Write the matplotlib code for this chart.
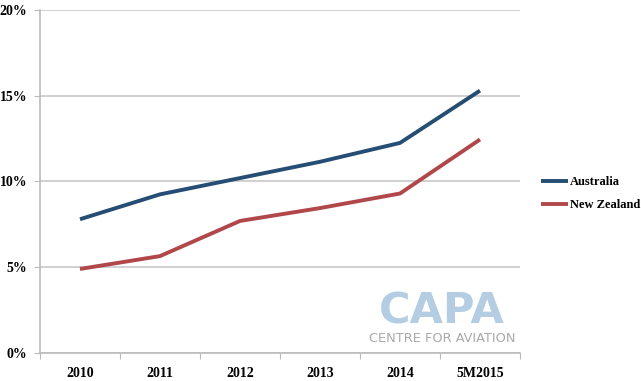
import numpy as np
import matplotlib.pyplot as plt
from matplotlib.ticker import FuncFormatter

# data
categories = ["2010", "2011", "2012", "2013", "2014", "5M2015"]
australia = [7.8, 9.25, 10.2, 11.15, 12.25, 15.3]
new_zealand = [4.9, 5.65, 7.7, 8.45, 9.3, 12.45]

W, H = 641, 381
fig = plt.figure(figsize=(W / 100, H / 100), dpi=100)
ax = fig.add_axes([40 / W, 28 / H, 480 / W, 343 / H])

x = np.arange(len(categories))
ax.plot(x, australia, color="#264d73", lw=2.8, label="Australia", solid_capstyle="butt")
ax.plot(x, new_zealand, color="#b0484a", lw=2.8, label="New Zealand", solid_capstyle="butt")

ax.set_xlim(-0.5, len(categories) - 0.5)
ax.set_ylim(0, 20)
ax.set_yticks([0, 5, 10, 15, 20])
ax.yaxis.set_major_formatter(FuncFormatter(lambda v, p: f"{v:.0f}%"))
ax.grid(axis="y", color="#c8c8c8", lw=1.2)
ax.set_axisbelow(True)

# category labels between boundary ticks
ax.set_xticks(np.arange(len(categories) + 1) - 0.5)
ax.set_xticklabels([])
ax.set_xticks(x, minor=True)
ax.set_xticklabels(categories, minor=True)
ax.tick_params(axis="x", which="minor", length=0, pad=10)
ax.tick_params(axis="x", which="major", length=4, color="#bbbbbb")
ax.tick_params(axis="y", length=4, color="#bbbbbb", pad=5)

for lab in ax.get_xticklabels(minor=True) + ax.get_yticklabels():
    lab.set_family("Liberation Serif")
    lab.set_fontweight("bold")
    lab.set_fontsize(10)

for s in ["top", "right"]:
    ax.spines[s].set_visible(False)
for s in ["left", "bottom"]:
    ax.spines[s].set_color("#bbbbbb")
    ax.spines[s].set_linewidth(1.2)

leg = ax.legend(loc="center left", bbox_to_anchor=(1.02, 0.465), frameon=False,
                prop={"family": "Liberation Serif", "weight": "bold", "size": 9},
                handlelength=2.2, handletextpad=0.1, labelspacing=0.9)

# watermark
fig.text(442 / W, 1 - 312 / H, "CAPA", color="#b5cde3", fontsize=31, fontweight="black",
         family="DejaVu Sans", ha="center", va="center")
fig.text(442 / W, 1 - 339 / H, "CENTRE FOR AVIATION", color="#aaaaaa", fontsize=9.3,
         family="DejaVu Sans", ha="center", va="center")

fig.savefig("out.png", dpi=100)
